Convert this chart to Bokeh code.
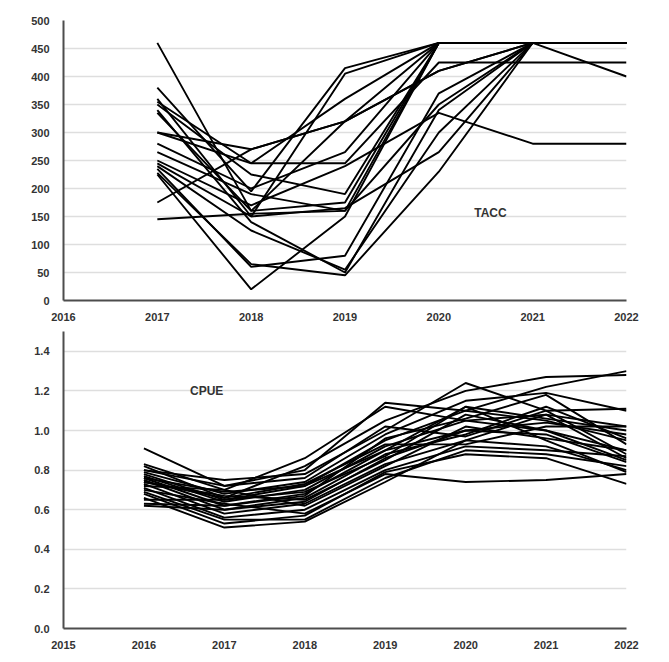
from bokeh.plotting import figure
from bokeh.layouts import column
from bokeh.models import Range1d, FixedTicker, Label
from bokeh.embed import file_html
from bokeh.resources import INLINE

# ---------------- data ----------------
tacc_years = [2017, 2018, 2019, 2020, 2021, 2022]
tacc_series = [
    [460, 160, 175, 460, 460, 460],
    [380, 195, 415, 460, 460, 460],
    [360, 150, 405, 460, 460, 460],
    [355, 245, 360, 460, 460, 400],
    [350, 225, 190, 460, 460, 460],
    [340, 140, 50, 340, 460, 460],
    [335, 160, 320, 460, 460, 460],
    [300, 270, 320, 410, 460, 460],
    [300, 245, 245, 425, 425, 425],
    [280, 200, 265, 460, 460, 460],
    [265, 190, 160, 350, 460, 460],
    [250, 170, 240, 335, 280, 280],
    [245, 150, 165, 265, 460, 460],
    [240, 125, 55, 300, 460, 460],
    [235, 60, 80, 370, 460, 460],
    [225, 20, 150, 460, 460, 460],
    [175, 270, 320, 410, 460, 460],
    [145, 155, 160, 460, 460, 460],
    [228, 65, 45, 230, 460, 460],
]
tacc_yticks = [0, 50, 100, 150, 200, 250, 300, 350, 400, 450, 500]
tacc_xticks = [2016, 2017, 2018, 2019, 2020, 2021, 2022]

cpue_years = [2016, 2017, 2018, 2019, 2020, 2021, 2022]
cpue_series = [
    [0.91, 0.72, 0.80, 1.14, 1.10, 1.05, 0.95],
    [0.83, 0.70, 0.86, 1.12, 1.05, 1.00, 0.90],
    [0.82, 0.66, 0.82, 1.05, 1.20, 1.27, 1.28],
    [0.80, 0.75, 0.78, 1.00, 1.24, 1.10, 0.88],
    [0.79, 0.68, 0.74, 0.98, 1.15, 1.19, 1.10],
    [0.78, 0.65, 0.72, 0.95, 1.10, 1.22, 1.30],
    [0.77, 0.64, 0.70, 0.92, 1.05, 1.08, 1.02],
    [0.76, 0.62, 0.68, 0.90, 1.00, 1.04, 0.98],
    [0.75, 0.60, 0.66, 0.88, 0.98, 1.12, 0.96],
    [0.74, 0.67, 0.65, 0.85, 1.08, 1.00, 0.85],
    [0.73, 0.58, 0.63, 0.83, 0.95, 0.92, 0.80],
    [0.72, 0.70, 0.62, 0.82, 1.02, 0.96, 0.90],
    [0.71, 0.56, 0.60, 0.80, 0.92, 0.90, 0.87],
    [0.70, 0.63, 0.58, 0.78, 0.74, 0.75, 0.78],
    [0.69, 0.55, 0.55, 0.76, 0.90, 0.88, 0.82],
    [0.68, 0.53, 0.57, 0.79, 0.88, 0.86, 0.73],
    [0.66, 0.51, 0.54, 0.74, 0.95, 1.08, 0.86],
    [0.65, 0.65, 0.69, 0.87, 1.12, 1.06, 1.00],
    [0.63, 0.62, 0.67, 0.96, 1.06, 1.18, 0.93],
    [0.62, 0.60, 0.64, 0.86, 1.00, 0.98, 0.84],
    [0.80, 0.72, 0.76, 1.02, 0.97, 1.10, 1.11],
    [0.76, 0.69, 0.72, 0.90, 1.12, 0.95, 0.79],
    [0.74, 0.66, 0.73, 0.93, 0.93, 1.02, 1.02],
]
cpue_yticks = [0.0, 0.2, 0.4, 0.6, 0.8, 1.0, 1.2, 1.4]
cpue_xticks = [2015, 2016, 2017, 2018, 2019, 2020, 2021, 2022]

FONT = "Liberation Sans"
TXT = "#333333"
AXC = "#4d4d4d"
GRID = "#dedede"


def style(p, xticks, yticks, yfmt):
    p.outline_line_color = None
    p.xgrid.grid_line_color = None
    p.ygrid.grid_line_color = GRID
    p.ygrid.grid_line_width = 1.5
    p.xaxis.ticker = FixedTicker(ticks=xticks)
    p.yaxis.ticker = FixedTicker(ticks=yticks)
    for ax in (p.xaxis[0], p.yaxis[0]):
        ax.axis_line_color = AXC
        ax.axis_line_width = 2
        ax.major_tick_line_color = None
        ax.minor_tick_line_color = None
        ax.major_label_text_font = FONT
        ax.major_label_text_font_style = "bold"
        ax.major_label_text_font_size = "11px"
        ax.major_label_text_color = TXT
    p.xaxis.major_label_standoff = 6
    p.yaxis.major_label_standoff = 8
    if yfmt:
        p.yaxis.major_label_overrides = {v: f"{v:.1f}" for v in yticks}


# ---------------- top: TACC ----------------
p1 = figure(width=653, height=325, output_backend="svg", toolbar_location=None,
            x_range=Range1d(2016, 2022), y_range=Range1d(0, 500),
            min_border_left=63, min_border_right=27, min_border_top=20, min_border_bottom=25)
style(p1, tacc_xticks, tacc_yticks, False)
for s in tacc_series:
    p1.line(tacc_years, s, line_color="black", line_width=1.9)
p1.add_layout(Label(x=2020.55, y=157, text="TACC", text_font=FONT, text_font_style="bold",
                    text_font_size="12px", text_color=TXT, text_align="center",
                    text_baseline="middle"))

# ---------------- bottom: CPUE ----------------
p2 = figure(width=653, height=327, output_backend="svg", toolbar_location=None,
            x_range=Range1d(2015, 2022), y_range=Range1d(0, 1.5),
            min_border_left=61, min_border_right=27, min_border_top=6, min_border_bottom=24)
style(p2, cpue_xticks, cpue_yticks, True)
for s in cpue_series:
    p2.line(cpue_years, s, line_color="black", line_width=1.9)
p2.add_layout(Label(x=2016.78, y=1.2, text="CPUE", text_font=FONT, text_font_style="bold",
                    text_font_size="12px", text_color=TXT, text_align="center",
                    text_baseline="middle"))

layout = column(p1, p2, spacing=0)
open("out.html", "w").write(file_html(layout, INLINE))
